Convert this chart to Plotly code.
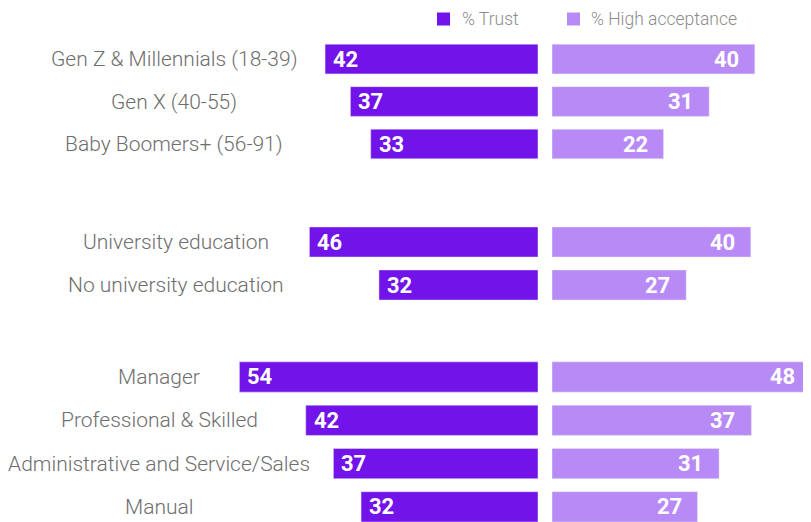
import plotly.graph_objects as go

# the page body has an 8px margin, so the figure is drawn 8px in from the top-left
OFF = 8
W, H = 811 - OFF, 522 - OFF

# data
groups = [
    ["Gen Z & Millennials (18-39)", "Gen X (40-55)", "Baby Boomers+ (56-91)"],
    ["University education", "No university education"],
    ["Manager", "Professional & Skilled", "Administrative and Service/Sales", "Manual"],
]
trust = [[42, 37, 33], [46, 32], [54, 42, 37, 32]]
acceptance = [[40, 31, 22], [40, 27], [48, 37, 31, 27]]
series_names = ["% Trust", "% High acceptance"]

TRUST_C = "#7213EA"
ACC_C = "#B88AF5"
LABEL_C = "#6e6e6e"
LEGEND_C = "#8c8c8c"


def px_x(x):
    return (x - OFF) / W


def px_y(y):
    return 1 - (y - OFF) / H


# per group: px per unit (left, right), row pixel top/bottom, y range, label centre px
scales = [(5.07, 5.07), (4.97, 4.97), (5.53, 5.39)]
rows_px = [(37.75, 165.25), (220.5, 306.5), (355.35, 522)]
yranges = [[2.5, -0.5], [1.5, -0.5], [3.35, -0.5]]
label_cx = [174, 176, 159]

L_END, R_START, R_END = 538, 552, 811

fig = go.Figure()
layout = dict()
annotations = []

for g, cats in enumerate(groups):
    xl = 2 * g + 1
    xr = 2 * g + 2
    yi = g + 1
    xl_name = "x" if xl == 1 else f"x{xl}"
    xr_name = f"x{xr}"
    y_name = "y" if yi == 1 else f"y{yi}"

    fig.add_trace(go.Bar(
        y=cats, x=trust[g], orientation="h", xaxis=xl_name, yaxis=y_name,
        marker_color=TRUST_C, width=0.70, name=series_names[0],
        showlegend=False, hoverinfo="skip",
    ))
    fig.add_trace(go.Bar(
        y=cats, x=acceptance[g], orientation="h", xaxis=xr_name, yaxis=y_name,
        marker_color=ACC_C, width=0.70, name=series_names[1],
        showlegend=False, hoverinfo="skip",
    ))

    sl, sr = scales[g]
    ax_common = dict(visible=False, showgrid=False, zeroline=False, fixedrange=True)
    layout["xaxis" if xl == 1 else f"xaxis{xl}"] = dict(
        ax_common, domain=[px_x(OFF), px_x(L_END)], range=[(L_END - OFF) / sl, 0], anchor=y_name)
    layout[f"xaxis{xr}"] = dict(
        ax_common, domain=[px_x(R_START), px_x(R_END)], range=[0, (R_END - R_START) / sr], anchor=y_name)
    top, bot = rows_px[g]
    layout["yaxis" if yi == 1 else f"yaxis{yi}"] = dict(
        ax_common, type="category", categoryarray=cats, categoryorder="array",
        domain=[max(0, px_y(bot)), px_y(top)], range=yranges[g], anchor=xl_name)

    for c, t, a in zip(cats, trust[g], acceptance[g]):
        annotations.append(dict(
            x=t, y=c, xref=xl_name, yref=y_name, text=f"<b>{t}</b>",
            xanchor="left", xshift=6, showarrow=False,
            font=dict(family="Roboto", size=22, color="white")))
        annotations.append(dict(
            x=a, y=c, xref=xr_name, yref=y_name, text=f"<b>{a}</b>",
            xanchor="right", xshift=-14, showarrow=False,
            font=dict(family="Roboto", size=22, color="white")))
        annotations.append(dict(
            x=px_x(label_cx[g]), y=c, xref="paper", yref=y_name, text=c,
            xanchor="center", showarrow=False,
            font=dict(family="Roboto", size=21, color=LABEL_C, weight=300)))

# legend drawn by hand: swatch + label
shapes = []
for (sx, tx), name, col in zip([(437, 460), (567, 589)], series_names, [TRUST_C, ACC_C]):
    shapes.append(dict(type="rect", xref="paper", yref="paper",
                       x0=px_x(sx), x1=px_x(sx + 13), y0=px_y(25.5), y1=px_y(12.5),
                       fillcolor=col, line_width=0))
    annotations.append(dict(
        x=px_x(tx), y=px_y(19), xref="paper", yref="paper", text=name,
        xanchor="left", yanchor="middle", showarrow=False,
        font=dict(family="Roboto", size=17.5, color=LEGEND_C, weight=300)))

fig.update_layout(
    **layout,
    annotations=annotations,
    shapes=shapes,
    width=W, height=H,
    margin=dict(l=0, r=0, t=0, b=0),
    plot_bgcolor="white", paper_bgcolor="white",
    barmode="overlay",
    showlegend=False,
)

fig.write_html("out.html")
